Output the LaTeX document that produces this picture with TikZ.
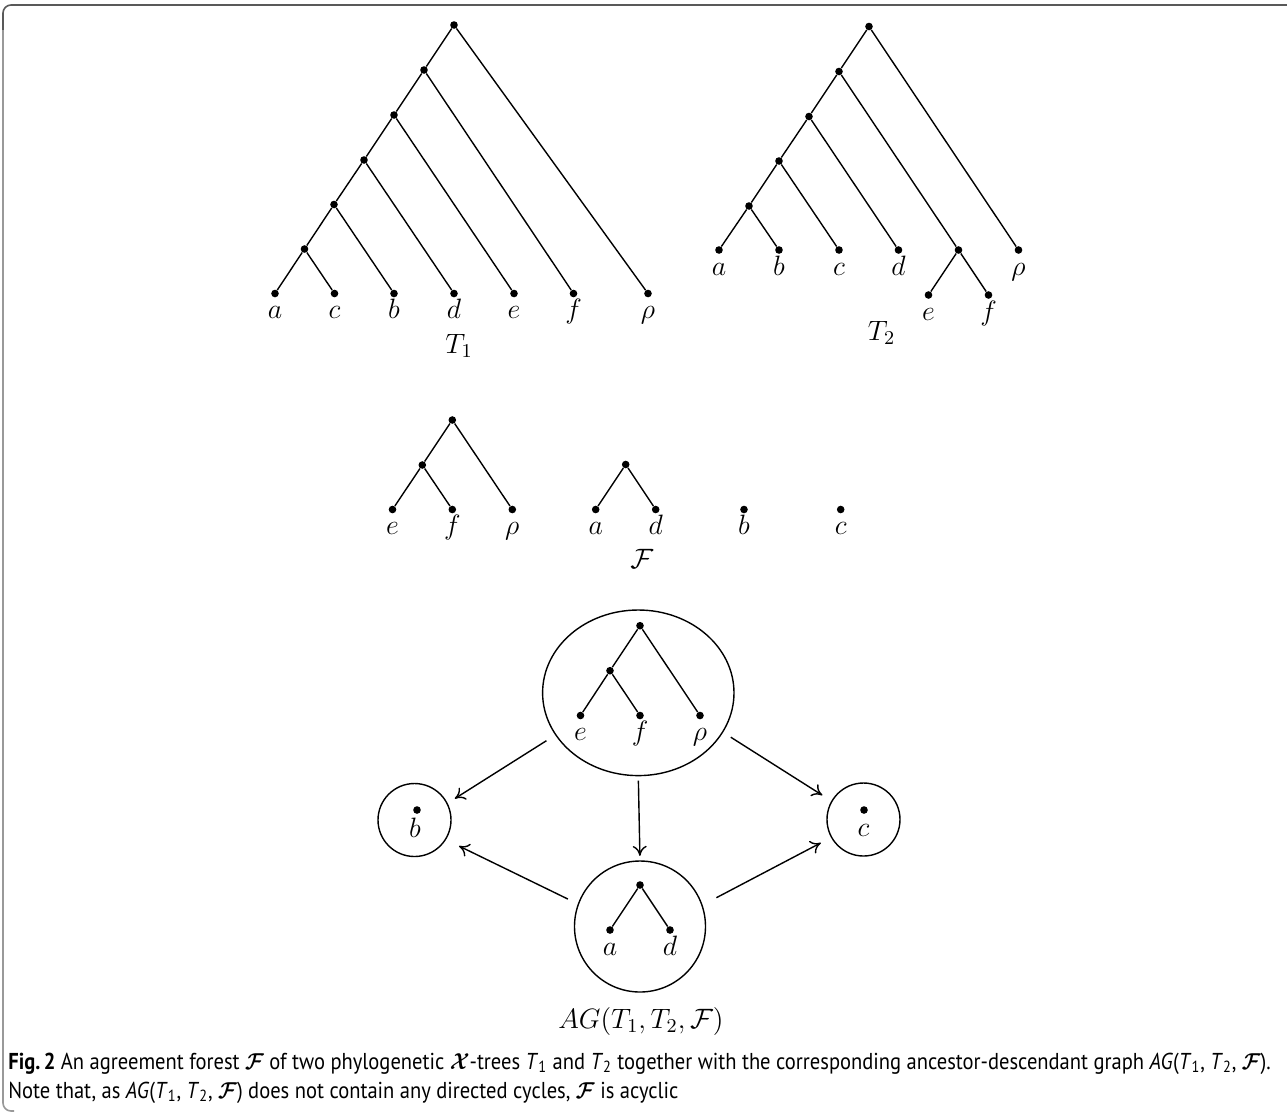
\RequirePackage{fix-cm}
\documentclass[tikz,border=0pt]{standalone}
\usepackage[no-math]{fontspec}
\usepackage{graphicx}
\usetikzlibrary{shapes.geometric,arrows.meta}
\newfontfamily\capfont{PT Sans}
\newcommand\bcal[1]{{\boldmath$\mathcal{#1}$}}
\begin{document}
\begin{tikzpicture}[x=0.5pt,y=-0.5pt,
  vtx/.style={circle,fill=black,inner sep=0pt,minimum size=3.8pt},
  edge/.style={line width=0.7pt},
  lab/.style={anchor=base,inner sep=0pt,font=\fontsize{14}{16}\selectfont},
  arr/.style={line width=0.7pt,-{To[length=5pt,width=7pt]}},
  bub/.style={draw,line width=0.7pt,inner sep=0pt},
  capt/.style={anchor=base west,inner sep=0pt,font=\capfont\fontsize{11.5}{13}\selectfont}]
\useasboundingbox (0,0) rectangle (1287,1116);
% frame
\draw[line width=0.8pt,gray!70!black,rounded corners=4pt] (1287,5) -- (3,5) -- (3,40);
\draw[line width=0.8pt,gray!80,rounded corners=4pt] (3,30) -- (3,1111) -- (14,1111);
% ---------------- T1
\node[vtx] (r1) at (454,25) {};
\node[vtx] (p2) at (424,70) {};
\node[vtx] (p3) at (394,115) {};
\node[vtx] (p4) at (364,160) {};
\node[vtx] (p5) at (334,204.5) {};
\node[vtx] (p6) at (304.5,249) {};
\node[vtx] (la) at (275,293.5) {};
\node[vtx] (lc) at (334.5,293.5) {};
\node[vtx] (lb) at (394,293.5) {};
\node[vtx] (ld) at (454,293.5) {};
\node[vtx] (le) at (514,293.5) {};
\node[vtx] (lf) at (573.5,293.5) {};
\node[vtx] (lr) at (648,293.5) {};
\draw[edge] (p6)--(la) (p6)--(lc) (p5)--(p6) (p5)--(lb) (p4)--(p5) (p4)--(ld)
  (p3)--(p4) (p3)--(le) (p2)--(p3) (p2)--(lf) (r1)--(p2) (r1)--(lr);
\node[lab] (tla) at (275,318.5) {$a$};
\node[lab] (tlc) at (334.5,318.5) {$c$};
\node[lab] (tlb) at (394,318.5) {$b$};
\node[lab] (tld) at (454,318.5) {$d$};
\node[lab] (tle) at (514,318.5) {$e$};
\node[lab] (tlf) at (573.5,318.5) {$f$};
\node[lab] (tlr) at (648,318.5) {$\rho$};
\node[lab] (T1) at (459,353) {$T_1$};
% ---------------- T2
\node[vtx] (s1) at (869,26.5) {};
\node[vtx] (s2) at (839,71.5) {};
\node[vtx] (s3) at (809,116.5) {};
\node[vtx] (s4) at (779,161) {};
\node[vtx] (s5) at (749,206) {};
\node[vtx] (ka) at (719,250) {};
\node[vtx] (kb) at (779,250) {};
\node[vtx] (kc) at (839,250) {};
\node[vtx] (kd) at (898.5,250) {};
\node[vtx] (kg) at (958.5,250) {};
\node[vtx] (kr) at (1018.5,250) {};
\node[vtx] (ke) at (928.5,295) {};
\node[vtx] (kf) at (988.5,295) {};
\draw[edge] (s5)--(ka) (s5)--(kb) (s4)--(s5) (s4)--(kc) (s3)--(s4) (s3)--(kd)
  (s2)--(s3) (s2)--(kg) (kg)--(ke) (kg)--(kf) (s1)--(s2) (s1)--(kr);
\node[lab] (ula) at (719,275.5) {$a$};
\node[lab] (ulb) at (779,275.5) {$b$};
\node[lab] (ulc) at (839,275.5) {$c$};
\node[lab] (uld) at (898.5,275.5) {$d$};
\node[lab] (ulr) at (1018.5,275.5) {$\rho$};
\node[lab] (ule) at (928.5,320) {$e$};
\node[lab] (ulf) at (988.5,320) {$f$};
\node[lab] (T2) at (881.5,340) {$T_2$};
% ---------------- forest F
\node[vtx] (f1) at (452.3,420) {};
\node[vtx] (f2) at (422.3,465) {};
\node[vtx] (fe) at (392.5,509.5) {};
\node[vtx] (ff) at (452.3,509.5) {};
\node[vtx] (fr) at (512.3,509.5) {};
\node[vtx] (g1) at (625.7,464.5) {};
\node[vtx] (ga) at (595.7,509.5) {};
\node[vtx] (gd) at (655.7,509.5) {};
\node[vtx] (gb) at (744,509.5) {};
\node[vtx] (gc) at (840.7,509.5) {};
\draw[edge] (f1)--(f2) (f1)--(fr) (f2)--(fe) (f2)--(ff) (g1)--(ga) (g1)--(gd);
\node[lab] (vle) at (392.5,534) {$e$};
\node[lab] (vlf) at (452.3,534) {$f$};
\node[lab] (vlr) at (512.3,534) {$\rho$};
\node[lab] (vla) at (595.7,534) {$a$};
\node[lab] (vld) at (655.7,534) {$d$};
\node[lab] (vlb) at (744,534) {$b$};
\node[lab] (vlc) at (840.7,534) {$c$};
\node[lab] (FF) at (641.7,568) {$\mathcal{F}$};
% ---------------- AG graph
\node[bub,ellipse,minimum width=95.7pt,minimum height=82.8pt] (E) at (638.3,692.8) {};
\node[bub,circle,minimum size=36.5pt] (bc) at (414.5,820) {};
\node[bub,circle,minimum size=36.5pt] (cc) at (863.5,819.5) {};
\node[bub,circle,minimum size=65.5pt] (B) at (640,926.5) {};
\node[vtx] (h1) at (640,625.7) {};
\node[vtx] (h2) at (610,670.7) {};
\node[vtx] (he) at (580.5,715.5) {};
\node[vtx] (hf) at (640,715.5) {};
\node[vtx] (hr) at (700,715.5) {};
\draw[edge] (h1)--(h2) (h1)--(hr) (h2)--(he) (h2)--(hf);
\node[lab] (wle) at (580.5,740) {$e$};
\node[lab] (wlf) at (640,740) {$f$};
\node[lab] (wlr) at (700,740) {$\rho$};
\node[vtx] (hb) at (417,810) {};
\node[lab] (wlb) at (415,837.5) {$b$};
\node[vtx] (hc) at (864,810) {};
\node[lab] (wlc) at (863.5,836.5) {$c$};
\node[vtx] (i1) at (640,885) {};
\node[vtx] (ia) at (610,930) {};
\node[vtx] (id) at (670,930) {};
\draw[edge] (i1)--(ia) (i1)--(id);
\node[lab] (wla) at (610,955) {$a$};
\node[lab] (wld) at (670,955) {$d$};
\draw[arr,shorten <=5.2pt,shorten >=4.2pt] (E.207) -- (bc.27.5);
\draw[arr,shorten <=4.5pt,shorten >=5.3pt] (E.335) -- (cc.150);
\draw[arr,shorten <=2.2pt,shorten >=2.2pt] (E.south) -- (B.north);
\draw[arr,shorten <=5.5pt,shorten >=7.2pt] (B.160) -- (bc.328);
\draw[arr,shorten <=7.8pt,shorten >=5.7pt] (B.19) -- (cc.209);
\node[lab] (AG) at (641,1028) {$AG(T_1,T_2,\mathcal{F})$};
% ---------------- caption
\node[capt,xscale=0.893,transform shape] (cap1) at (8,1069) {\textbf{Fig.\,2} An agreement forest \bcal{F} of two phylogenetic \bcal{X}-trees \textit{T}\textsubscript{1} and \textit{T}\textsubscript{2} together with the corresponding ancestor-descendant graph \textit{AG}(\textit{T}\textsubscript{1}, \textit{T}\textsubscript{2}, \bcal{F}).};
\node[capt,xscale=0.893,transform shape] (cap2) at (8,1098) {Note that, as \textit{AG}(\textit{T}\textsubscript{1}, \textit{T}\textsubscript{2}, \bcal{F}) does not contain any directed cycles, \bcal{F} is acyclic};
\end{tikzpicture}
\end{document}
